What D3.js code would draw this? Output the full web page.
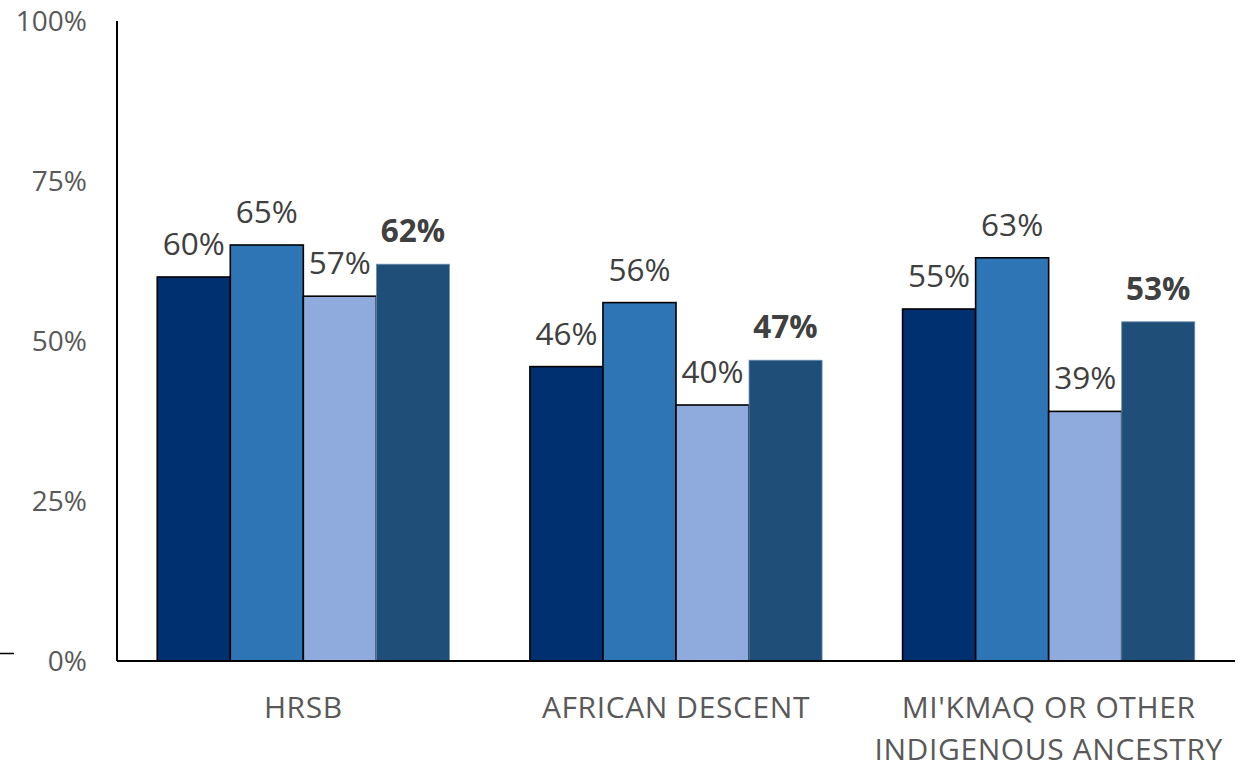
<!DOCTYPE html>
<html>
<head>
<meta charset="utf-8">
<script src="https://cdn.jsdelivr.net/npm/d3@7"></script>
<style>
  html, body { margin: 0; padding: 0; background: #fff; }
  svg { display: block; }
  text { font-family: "Open Sans", "Noto Sans", sans-serif; }
</style>
</head>
<body>
<svg id="chart" width="1250" height="769"></svg>
<script>
const categories = ["HRSB", "AFRICAN DESCENT", "MI'KMAQ OR OTHER\nINDIGENOUS ANCESTRY"];
const seriesNames = ["Series 1", "Series 2", "Series 3", "Series 4"];
const series1 = [0.60, 0.46, 0.55];
const series2 = [0.65, 0.56, 0.63];
const series3 = [0.57, 0.40, 0.39];
const series4 = [0.62, 0.47, 0.53];
const yTicks = [0, 0.25, 0.5, 0.75, 1];
const yTickLabels = ["0%", "25%", "50%", "75%", "100%"];
const colors = ["#003070", "#2E75B6", "#8FAADC", "#1F4E79"];

const allSeries = [series1, series2, series3, series4];
const svg = d3.select("#chart");
const margin = { left: 117, right: 15, top: 21, bottom: 108 };
const W = 1250, H = 769;

const x0 = d3.scaleBand().domain(categories).range([margin.left, W - margin.right]).paddingInner(0.216).paddingOuter(0.108);
const x1 = d3.scaleBand().domain(seriesNames).range([0, x0.bandwidth()]);
const y = d3.scaleLinear().domain([0, 1]).range([H - margin.bottom, margin.top]);

// small stray tick at far left
svg.append("line").attr("x1", 0).attr("x2", 14).attr("y1", y(0) - 7.5).attr("y2", y(0) - 7.5)
  .attr("stroke", "#000").attr("stroke-width", 1.5);

// y tick labels
svg.append("g").selectAll("text").data(yTicks).join("text")
  .attr("x", 87).attr("y", d => y(d)).attr("dy", "0.35em")
  .attr("text-anchor", "end").attr("font-size", 28).attr("fill", "#595959")
  .text((d, i) => yTickLabels[i]);

// bars
const groups = svg.append("g").selectAll("g").data(categories).join("g")
  .attr("transform", d => `translate(${x0(d)},0)`);

groups.each(function(cat, ci) {
  const g = d3.select(this);
  seriesNames.forEach((s, si) => {
    const v = allSeries[si][ci];
    g.append("rect")
      .attr("x", x1(s)).attr("width", x1.bandwidth())
      .attr("y", y(v)).attr("height", y(0) - y(v))
      .attr("fill", colors[si])
      .attr("stroke", si < 3 ? "#000" : "#6d8fb5")
      .attr("stroke-width", si < 3 ? 1.6 : 0.8);
  });
  seriesNames.forEach((s, si) => {
    const v = allSeries[si][ci];
    g.append("text")
      .attr("x", x1(s) + x1.bandwidth() / 2).attr("y", y(v) - 22)
      .attr("text-anchor", "middle").attr("font-size", 31.5)
      .attr("font-weight", si === 3 ? "bold" : "normal")
      .attr("fill", "#404040")
      .text(d3.format(".0%")(v));
  });
});

// axes lines
svg.append("line").attr("x1", margin.left).attr("x2", margin.left).attr("y1", margin.top).attr("y2", y(0))
  .attr("stroke", "#000").attr("stroke-width", 2);
svg.append("line").attr("x1", margin.left).attr("x2", W - margin.right).attr("y1", y(0)).attr("y2", y(0))
  .attr("stroke", "#000").attr("stroke-width", 2);

// category labels (one text element per line)
const catLines = [];
categories.forEach(c => c.split("\n").forEach((l, i) => catLines.push({ cat: c, line: l, i })));
svg.append("g").selectAll("text").data(catLines).join("text")
  .attr("text-anchor", "middle").attr("font-size", 30).attr("letter-spacing", 0.6)
  .attr("fill", "#595959")
  .attr("x", d => x0(d.cat) + x0.bandwidth() / 2)
  .attr("y", d => y(0) + 57 + d.i * 41.5)
  .text(d => d.line);
</script>
</body>
</html>
